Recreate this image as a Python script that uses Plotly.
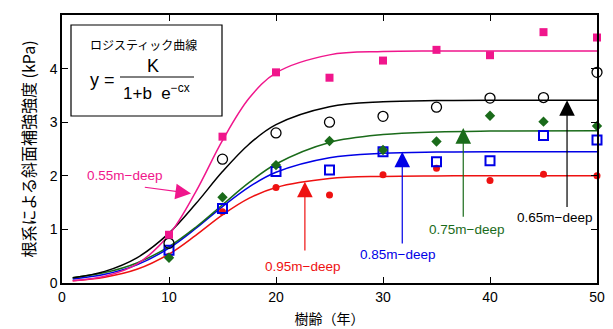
import plotly.graph_objects as go

# ---------------- data ----------------
ages = [10, 15, 20, 25, 30, 35, 40, 45, 50]
d055 = [0.90, 2.73, 3.93, 3.83, 4.15, 4.35, 4.25, 4.68, 4.58]
d065 = [0.74, 2.31, 2.80, 3.00, 3.11, 3.28, 3.45, 3.46, 3.93]
d075 = [0.47, 1.60, 2.20, 2.65, 2.48, 2.64, 3.12, 3.01, 2.93]
d085 = [0.61, 1.39, 2.08, 2.11, 2.45, 2.26, 2.28, 2.75, 2.67]
d095 = [0.50, 1.33, 1.78, 1.64, 2.02, 2.14, 1.91, 2.03, 2.00]

# fitted logistic curves
curve_x = [1, 4, 7, 10, 12.5, 15, 17.5, 20, 25, 30, 35, 40, 50]
fit055 = [0.044, 0.127, 0.354, 0.90, 1.70, 2.66, 3.45, 3.92, 4.256, 4.318, 4.328, 4.33, 4.33]
fit065 = [0.096, 0.217, 0.469, 0.93, 1.477, 2.078, 2.594, 2.954, 3.288, 3.380, 3.403, 3.408, 3.41]
fit075 = [0.097, 0.194, 0.374, 0.68, 1.040, 1.46, 1.876, 2.22, 2.622, 2.77, 2.819, 2.834, 2.84]
fit085 = [0.076, 0.163, 0.339, 0.65, 1.017, 1.426, 1.795, 2.066, 2.337, 2.42, 2.442, 2.448, 2.45]
fit095 = [0.044, 0.109, 0.255, 0.54, 0.890, 1.271, 1.582, 1.783, 1.950, 1.989, 1.998, 2.0, 2.0]

labels = ["0.55m−deep", "0.65m−deep", "0.75m−deep", "0.85m−deep", "0.95m−deep"]

PINK = "#F0168C"
BLACK = "#000000"
GREEN = "#1A6B1A"
BLUE = "#0000E6"
RED = "#EE1111"

# page offset (browser body margin) compensation
OFF = 8
W, H = 613 - OFF, 329 - OFF
L, R, T, B = 62 - OFF, 16, 15 - OFF, 46
PW, PH = 535, 268  # plot area size in px


def px(xp):
    return (xp - 62) / PW


def py(yp):
    return (283 - yp) / PH


fig = go.Figure()

series = [
    (fit095, d095, RED, dict(symbol="circle", size=7, color=RED)),
    (fit085, d085, BLUE, dict(symbol="square-open", size=9, color=BLUE, line=dict(width=2, color=BLUE))),
    (fit075, d075, GREEN, dict(symbol="diamond", size=8, color=GREEN)),
    (fit065, d065, BLACK, dict(symbol="circle-open", size=10, color=BLACK, line=dict(width=1.3, color=BLACK))),
    (fit055, d055, PINK, dict(symbol="square", size=8, color=PINK)),
]
for fit, pts, col, mk in series:
    fig.add_trace(go.Scatter(x=curve_x, y=fit, mode="lines",
                             line=dict(color=col, width=1.5, shape="spline", smoothing=1.0),
                             hoverinfo="skip", showlegend=False))
for fit, pts, col, mk in series:
    fig.add_trace(go.Scatter(x=ages, y=pts, mode="markers", marker=mk,
                             cliponaxis=False, showlegend=False))

font_lbl = dict(family="Liberation Sans, Arial", size=13.5)

# arrows
arrows = [
    # (tip x, tip y, tail x, tail y, color)
    (12.06, 1.67, 7.6, 1.79, PINK),
    (22.7, 1.89, 22.7, 0.58, RED),
    (31.8, 2.45, 31.8, 0.71, BLUE),
    (37.5, 2.89, 37.5, 1.21, GREEN),
    (47.2, 3.41, 47.2, 1.39, BLACK),
]
for tx, ty, sx, sy, col in arrows:
    fig.add_annotation(x=tx, y=ty, ax=sx, ay=sy, xref="x", yref="y", axref="x", ayref="y",
                       text="", showarrow=True, arrowhead=2, arrowsize=2.6, arrowwidth=1.2,
                       arrowcolor=col)

texts = [
    (5.8, 2.01, labels[0], PINK, None),
    (46.0, 1.23, labels[1], BLACK, "white"),
    (37.8, 1.00, labels[2], GREEN, None),
    (31.4, 0.54, labels[3], BLUE, None),
    (22.5, 0.30, labels[4], RED, None),
]
for x, y, t, col, bg in texts:
    fig.add_annotation(x=x, y=y, xref="x", yref="y", text=t, showarrow=False,
                       xanchor="center", yanchor="middle",
                       font=dict(color=col, **font_lbl),
                       bgcolor=bg if bg else "rgba(0,0,0,0)")

# equation box
fig.add_shape(type="rect", xref="paper", yref="paper",
              x0=px(71), x1=px(222), y0=py(116), y1=py(25),
              line=dict(color="black", width=1.2), fillcolor="white")
eq_font = dict(family="Liberation Sans, Arial", color="black")
fig.add_annotation(xref="paper", yref="paper", x=px(143), y=py(44),
                   xanchor="center", yanchor="middle",
                   text="ロジスティック曲線", showarrow=False,
                   font=dict(family="Noto Sans CJK JP", size=12, color="black"))
fig.add_annotation(xref="paper", yref="paper", x=px(102), y=py(80),
                   xanchor="center", yanchor="middle",
                   text="y =", showarrow=False, font=dict(size=18, **eq_font))
fig.add_annotation(xref="paper", yref="paper", x=px(153), y=py(66),
                   xanchor="center", yanchor="middle",
                   text="K", showarrow=False, font=dict(size=18, **eq_font))
fig.add_shape(type="line", xref="paper", yref="paper",
              x0=px(120), x1=px(194), y0=py(77), y1=py(77),
              line=dict(color="black", width=1))
fig.add_annotation(xref="paper", yref="paper", x=px(156), y=py(92),
                   xanchor="center", yanchor="middle",
                   text="1+b  e<sup>−cx</sup>", showarrow=False, font=dict(size=17, **eq_font))

axis_common = dict(showline=True, linecolor="black", linewidth=1.5, mirror="ticks",
                   ticks="inside", ticklen=6, tickcolor="black", tickwidth=1,
                   showgrid=False, zeroline=False,
                   tickfont=dict(family="Liberation Sans, Arial", size=14, color="black"))

fig.update_xaxes(range=[0, 50], dtick=10, title=dict(text="樹齢（年）", standoff=11,
                 font=dict(family="Noto Sans CJK JP", size=14, color="black")), **axis_common)
fig.update_yaxes(range=[0, 5], dtick=1, title=dict(text="根系による斜面補強強度 (kPa)", standoff=10,
                 font=dict(family="Noto Sans CJK JP", size=16, color="black")), **axis_common)

fig.update_layout(width=W, height=H, margin=dict(l=L, r=R, t=T, b=B, autoexpand=False),
                  plot_bgcolor="white", paper_bgcolor="white")

fig.write_html("out.html")
